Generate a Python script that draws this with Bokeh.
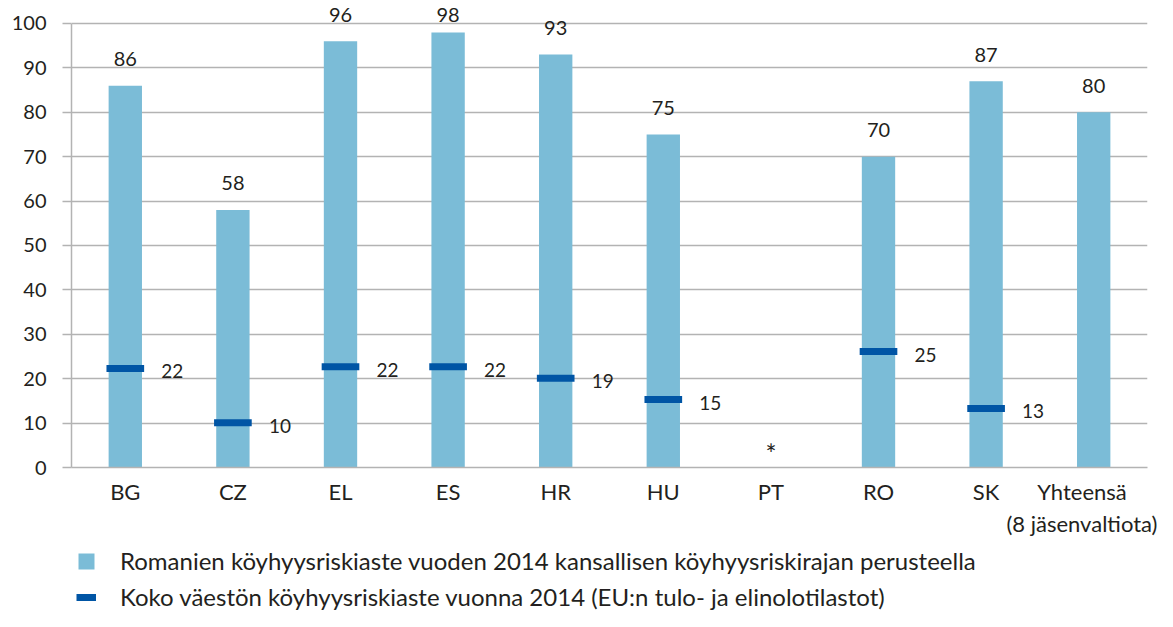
from bokeh.plotting import figure
from bokeh.layouts import column
from bokeh.models import ColumnDataSource, Legend, LegendItem, FixedTicker, Range1d, FactorRange
from bokeh.transform import dodge
from bokeh.embed import file_html
from bokeh.resources import INLINE
from bokeh.core.properties import value

categories = ["BG", "CZ", "EL", "ES", "HR", "HU", "PT", "RO", "SK", "Yhteensä\n(8 jäsenvaltiota)"]
roma_rates = [86, 58, 96, 98, 93, 75, None, 70, 87, 80]
roma_labels = ["86", "58", "96", "98", "93", "75", "", "70", "87", "80"]
total_rates = [22.3, 10.1, 22.7, 22.7, 20.1, 15.3, None, 26.1, 13.3, None]
total_labels = ["22", "10", "22", "22", "19", "15", "", "25", "13", ""]
missing_marks = ["", "", "", "", "", "", "*", "", "", ""]
y_ticks = list(range(0, 101, 10))
legend_labels = [
    "Romanien köyhyysriskiaste vuoden 2014 kansallisen köyhyysriskirajan perusteella",
    "Koko väestön köyhyysriskiaste vuonna 2014 (EU:n tulo- ja elinolotilastot)",
]

FONT = "Lato"
TXT = "#231F20"
GRID = "#B3B3B3"
BAR = "#7BBCD7"
DASH = "#0055A5"

Y_MAX = 105.18
LABEL_GAP = 6.0      # data units between bar top and label centre
LABEL_CAP = 102.0    # keep top labels inside the chart (as the original does)

bar_vals = [v for v in roma_rates if v is not None]
bar_src = ColumnDataSource(dict(
    cat=[c for c, v in zip(categories, roma_rates) if v is not None],
    val=bar_vals,
    lab=[l for l, v in zip(roma_labels, roma_rates) if v is not None],
    lab_y=[min(v + LABEL_GAP, LABEL_CAP) for v in bar_vals],
))
dash_src = ColumnDataSource(dict(
    cat=[c for c, v in zip(categories, total_rates) if v is not None],
    val=[v for v in total_rates if v is not None],
    lab=[l for l, v in zip(total_labels, total_rates) if v is not None],
))
mark_src = ColumnDataSource(dict(
    cat=[c for c, m in zip(categories, missing_marks) if m],
    val=[0 for m in missing_marks if m],
    lab=[m for m in missing_marks if m],
))

p = figure(x_range=categories, y_range=Range1d(0, Y_MAX),
           width=1157, height=539,
           min_border_left=71, min_border_right=10, min_border_top=0, min_border_bottom=60,
           output_backend="svg", toolbar_location=None)
p.outline_line_color = None
p.background_fill_color = "white"

bar_style = dict(fill_color=BAR, line_color=None)
dash_style = dict(line_color=DASH, line_width=7, line_cap="butt")

bars = p.vbar(x="cat", top="val", width=0.31, source=bar_src, **bar_style)
dashes = p.segment(x0=dodge("cat", -0.175, range=p.x_range), y0="val",
                   x1=dodge("cat", 0.175, range=p.x_range), y1="val",
                   source=dash_src, **dash_style)

p.text(x="cat", y="lab_y", text="lab", source=bar_src, text_align="center",
       text_baseline="middle", text_font=value(FONT),
       text_font_size="20px", text_color=TXT)
p.text(x="cat", y="val", text="lab", source=dash_src, text_align="left",
       text_baseline="middle", x_offset=36, y_offset=3, text_font=value(FONT),
       text_font_size="19px", text_color=TXT)
p.text(x="cat", y="val", text="lab", source=mark_src, text_align="center",
       text_baseline="middle", y_offset=-14, text_font=value(FONT),
       text_font_size="26px", text_color=TXT)

# axes
p.xgrid.grid_line_color = None
p.ygrid.grid_line_color = GRID
p.ygrid.grid_line_width = 1.5
p.yaxis.ticker = FixedTicker(ticks=y_ticks)
p.yaxis.bounds = (0, 100)
p.yaxis.axis_line_color = GRID
p.yaxis.axis_line_width = 1.5
p.yaxis.major_tick_line_color = GRID
p.yaxis.major_tick_line_width = 1.5
p.yaxis.major_tick_out = 9
p.yaxis.major_tick_in = 0
p.yaxis.minor_tick_line_color = None
p.yaxis.major_label_standoff = 16
p.yaxis.major_label_text_font = FONT
p.yaxis.major_label_text_font_size = "20px"
p.yaxis.major_label_text_color = TXT

p.xaxis.axis_line_color = GRID
p.xaxis.axis_line_width = 1.5
p.xaxis.major_tick_line_color = None
p.xaxis.major_tick_out = 0
p.xaxis.major_tick_in = 0
p.xaxis.major_label_standoff = 10
p.xaxis.major_label_text_font = FONT
p.xaxis.major_label_text_font_size = "22px"
p.xaxis.major_label_text_color = TXT

# legend strip below the chart; proxy renderers reuse the data but sit outside the view
lg = figure(width=1157, height=72, x_range=FactorRange(*categories), y_range=Range1d(1000, 1001),
            min_border_left=0, min_border_right=0, min_border_top=0, min_border_bottom=0,
            x_axis_type=None, y_axis_type=None,
            output_backend="svg", toolbar_location=None)
lg.outline_line_color = None
lg.xgrid.grid_line_color = None
lg.ygrid.grid_line_color = None
lg_bar = lg.vbar(x="cat", top="val", width=0.31, source=bar_src, **bar_style)
lg_dash = lg.segment(x0="cat", y0="val", x1="cat", y1="val", source=dash_src, **dash_style)

legend = Legend(items=[LegendItem(label=legend_labels[0], renderers=[lg_bar]),
                       LegendItem(label=legend_labels[1], renderers=[lg_dash])],
                location=(5, 0), orientation="vertical",
                glyph_width=20, glyph_height=20, label_height=20,
                label_standoff=24, spacing=7, padding=0, margin=0,
                border_line_color=None, background_fill_alpha=0,
                label_text_font=FONT, label_text_font_size="24px",
                label_text_color=TXT)
lg.add_layout(legend, "center")

layout = column(p, lg, spacing=0)
open("out.html", "w").write(file_html(layout, INLINE))
